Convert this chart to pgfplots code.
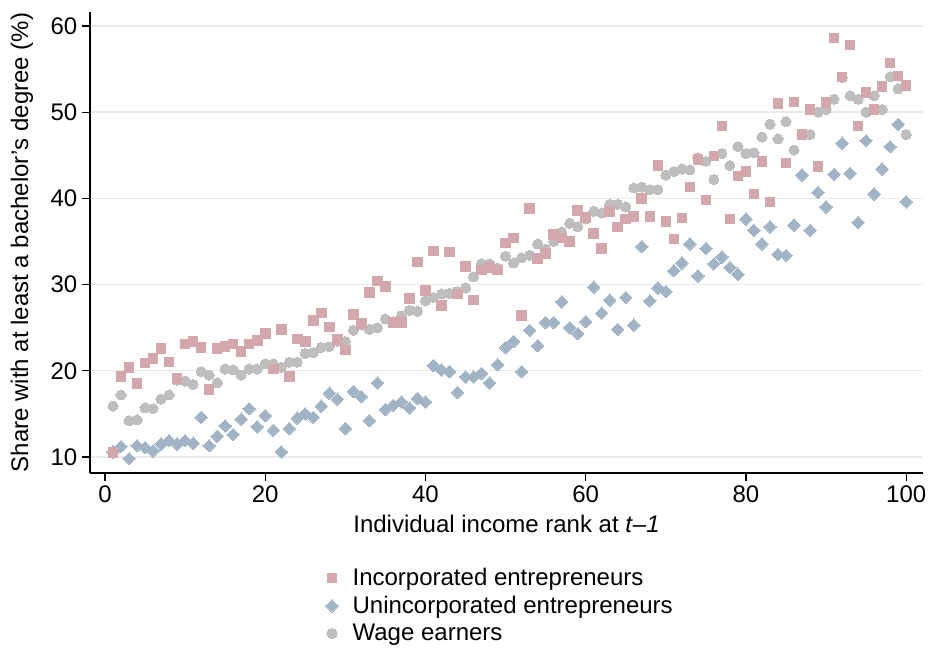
\documentclass[border=0pt]{standalone}
\usepackage{fontspec}
\setmainfont{Liberation Sans}
\usepackage{pgfplots}
\usepackage{pgfplotstable}
\pgfplotsset{compat=1.18}

\definecolor{incc}{RGB}{211,167,172}
\definecolor{uncc}{RGB}{160,180,198}
\definecolor{wagec}{RGB}{190,190,190}
\definecolor{gridc}{RGB}{234,234,234}

% rank, incorporated, unincorporated, wage earners (share with BA, %)
\pgfplotstableread{
rank inc uninc wage
1 10.5 10.6 15.9
2 19.3 11.2 17.2
3 20.4 9.8 14.2
4 18.5 11.3 14.3
5 20.9 11.1 15.7
6 21.4 10.7 15.6
7 22.6 11.5 16.7
8 21.0 11.9 17.2
9 19.1 11.5 18.9
10 23.1 11.9 18.8
11 23.4 11.6 18.4
12 22.7 14.6 19.9
13 17.8 11.3 19.5
14 22.6 12.4 18.6
15 22.8 13.6 20.2
16 23.1 12.6 20.1
17 22.2 14.4 19.5
18 23.1 15.6 20.2
19 23.5 13.5 20.2
20 24.3 14.8 20.8
21 20.2 13.1 20.8
22 24.8 10.6 20.4
23 19.3 13.3 21.0
24 23.7 14.5 21.0
25 23.4 15.0 22.0
26 25.8 14.6 22.1
27 26.7 15.9 22.7
28 25.1 17.4 22.8
29 23.6 16.7 23.4
30 22.4 13.3 23.4
31 26.5 17.6 24.7
32 25.5 17.0 25.3
33 29.1 14.2 24.8
34 30.4 18.6 25.0
35 29.8 15.5 26.0
36 25.6 16.0 25.7
37 25.6 16.4 26.4
38 28.4 15.7 27.0
39 32.6 16.8 26.9
40 29.3 16.4 28.1
41 33.9 20.6 28.5
42 27.6 20.1 28.9
43 33.8 19.9 29.0
44 28.9 17.5 29.2
45 32.1 19.3 29.6
46 28.2 19.3 30.9
47 31.7 19.7 32.4
48 32.0 18.6 32.4
49 31.7 20.7 31.9
50 34.8 22.7 33.3
51 35.4 23.4 32.5
52 26.4 19.9 33.1
53 38.8 24.7 33.4
54 33.0 22.9 34.7
55 33.6 25.6 34.1
56 35.8 25.6 35.0
57 35.4 28.0 36.1
58 35.0 25.0 37.1
59 38.6 24.3 36.7
60 37.8 25.7 37.6
61 35.9 29.7 38.5
62 34.2 26.7 38.3
63 38.5 28.2 39.3
64 36.7 24.8 39.3
65 37.6 28.5 39.0
66 37.9 25.3 41.2
67 40.0 34.4 41.3
68 37.9 28.1 41.0
69 43.8 29.6 41.0
70 37.3 29.2 42.7
71 35.3 31.6 43.1
72 37.7 32.5 43.4
73 41.3 34.7 43.3
74 44.5 31.0 44.7
75 39.8 34.2 44.3
76 44.9 32.4 42.2
77 48.4 33.2 45.2
78 37.6 32.0 43.8
79 42.6 31.2 46.0
80 43.1 37.6 45.2
81 40.5 36.3 45.3
82 44.3 34.7 47.1
83 39.6 36.7 48.6
84 51.0 33.5 46.9
85 44.1 33.4 48.9
86 51.2 36.9 45.6
87 47.4 42.7 47.4
88 50.3 36.3 47.4
89 43.7 40.7 50.0
90 51.1 39.0 50.3
91 58.6 42.8 51.5
92 54.1 46.4 54.0
93 57.8 42.9 51.9
94 48.4 37.2 51.5
95 52.3 46.7 50.0
96 50.3 40.5 51.9
97 53.0 43.4 50.3
98 55.7 46.0 54.1
99 54.2 48.6 52.7
100 53.1 39.6 47.4
}\ranks

\newcommand{\fs}{\fontsize{18}{21.6}\selectfont}

\begin{document}
\begin{tikzpicture}
\useasboundingbox (-67.5pt,-131.25pt) rectangle (630pt,354.75pt);
\begin{axis}[
  at={(0,0)}, anchor=south west,
  scale only axis, width=624.75pt, height=345.75pt,
  xmin=-1.87, xmax=102.1, ymin=8.14, ymax=61.62,
  axis x line*=bottom, axis y line*=left,
  axis line style={line width=0.9pt, black},
  xtick={0,20,...,100}, ytick={10,20,...,60},
  tick align=outside, major tick length=6pt,
  tick style={line width=0.9pt, black},
  ymajorgrids, grid style={gridc, line width=1.1pt},
  ticklabel style={font=\fs},
  /pgf/number format/assume math mode=true,
  xlabel={Individual income rank at \textit{t}\textit{–1}},
  ylabel={Share with at least a bachelor’s degree (\%)},
  label style={font=\fs},
  xlabel style={at={(axis description cs:0.5,-0.111)}, anchor=center},
  ylabel style={at={(axis description cs:-0.0816,0.5)}, anchor=center, rotate=0},
  reverse legend,
  legend cell align=left,
  legend style={draw=none, fill=none, font=\fs,
    at={(axis description cs:0.278,-0.196)}, anchor=north west,
    row sep=3.4pt, column sep=3.75pt,
    nodes={inner xsep=7pt, inner ysep=1.5pt}},
]
\addplot[only marks, mark=*, mark size=3.8pt,
  mark options={fill=wagec, draw=wagec, line width=0pt}]
  table[x=rank, y=wage] {\ranks};
\addlegendentry{Wage earners}
\addplot[only marks, mark=square*, mark size=3.3pt,
  mark options={fill=uncc, draw=uncc, line width=0pt, rotate=45}]
  table[x=rank, y=uninc] {\ranks};
\addlegendentry{Unincorporated entrepreneurs}
\addplot[only marks, mark=square*, mark size=3.6pt,
  mark options={fill=incc, draw=incc, line width=0pt}]
  table[x=rank, y=inc] {\ranks};
\addlegendentry{Incorporated entrepreneurs}
\end{axis}
\end{tikzpicture}
\end{document}
